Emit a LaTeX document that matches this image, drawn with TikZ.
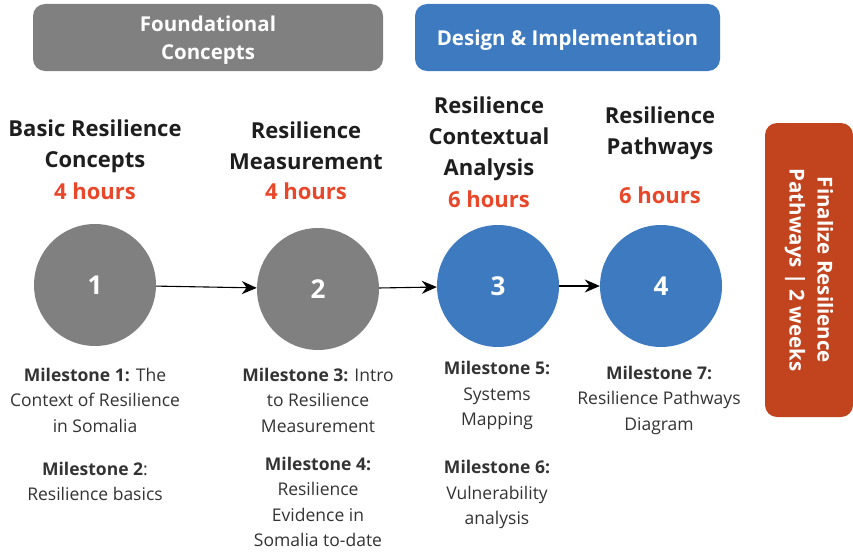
\documentclass[tikz,border=0pt]{standalone}
\usepackage{fontspec}
\setmainfont{Open Sans}
\usetikzlibrary{arrows.meta}
\definecolor{phasegray}{HTML}{808080}
\definecolor{phaseblue}{HTML}{3E7AC0}
\definecolor{finalred}{HTML}{C2441F}
\definecolor{hourred}{HTML}{E8472A}
\definecolor{titleblack}{HTML}{1E1E1E}
\definecolor{mstext}{HTML}{333333}
\tikzset{
  phasebox/.style={rounded corners=12pt, text=white, align=center,
    font=\fontsize{20.5}{28}\selectfont\bfseries, inner sep=0pt},
  steptitle/.style={align=center, text=titleblack,
    font=\fontsize{22}{31}\selectfont\bfseries},
  hours/.style={text=hourred, font=\fontsize{22}{31}\selectfont\bfseries},
  stepcircle/.style={circle, minimum size=122pt, inner sep=0pt, text=white,
    font=\fontsize{26}{30}\selectfont\bfseries},
  milestone/.style={align=center, text=mstext,
    font=\fontsize{17.5}{25.5}\selectfont}
}
\begin{document}
\begin{tikzpicture}[x=1pt, y=-1pt]
\def\l{15pt}
\def\w{13pt}
\useasboundingbox (0,0) rectangle (853,551);
\clip (0,0) rectangle (853,551);
% phases
\path [fill=phasegray, rounded corners=12pt] (33,4) rectangle (383,71);
\node [phasebox, name=found] at (208,40) {Foundational\\Concepts};
\path [fill=phaseblue, rounded corners=12pt] (415,4) rectangle (720,71);
\node [phasebox, name=design] at (567.5,40.5) {Design \& Implementation};
\node [phasebox, fill=finalred, rotate=-90, minimum width=294pt, minimum height=88pt, name=final] at (809,270) {Finalize Resilience\\Pathways | 2 weeks};
% step titles
\node [steptitle, name=t1] at (95,146) {Basic Resilience\\Concepts};
\node [hours, name=h1] at (95,191) {4 hours};
\node [steptitle, name=t2] at (306,146) {Resilience\\Measurement};
\node [hours, name=h2] at (306,191) {4 hours};
\node [steptitle, name=t3] at (489,139) {Resilience\\Contextual\\Analysis};
\node [hours, name=h3] at (489,199) {6 hours};
\node [steptitle, name=t4] at (660,133.5) {Resilience\\Pathways};
\node [hours, name=h4] at (660,195) {6 hours};
% steps
\node [stepcircle, fill=phasegray, name=c1] at (95,285) {1};
\node [stepcircle, fill=phasegray, name=c2] at (318,289) {2};
\node [stepcircle, fill=phaseblue, name=c3] at (498,286) {3};
\node [stepcircle, fill=phaseblue, name=c4] at (661,286) {4};
\draw [line width=1.1pt, -{Stealth[length=\l, width=\w]}](c1) -- (c2);
\draw [line width=1.1pt, -{Stealth[length=\l, width=\w]}](c2) -- (c3);
\draw [line width=1.1pt, -{Stealth[length=\l, width=\w]}](c3) -- (c4);
% milestones
\node [milestone, name=m1] at (95,400) {\textbf{Milestone 1:} The\\Context of Resilience\\in Somalia};
\node [milestone, name=m2] at (95,481.5) {\textbf{Milestone 2}:\\Resilience basics};
\node [milestone, name=m3] at (318,400) {\textbf{Milestone 3:} Intro\\to Resilience\\Measurement};
\node [milestone, name=m4] at (318,502) {\textbf{Milestone 4:}\\Resilience\\Evidence in\\Somalia to-date};
\node [milestone, name=m5] at (497,395.5) {\textbf{Milestone 5:}\\Systems\\Mapping};
\node [milestone, name=m6] at (497,494.5) {\textbf{Milestone 6:}\\Vulnerability\\analysis};
\node [milestone, name=m7] at (659,400) {\textbf{Milestone 7:}\\Resilience Pathways\\Diagram};
\end{tikzpicture}
\end{document}
